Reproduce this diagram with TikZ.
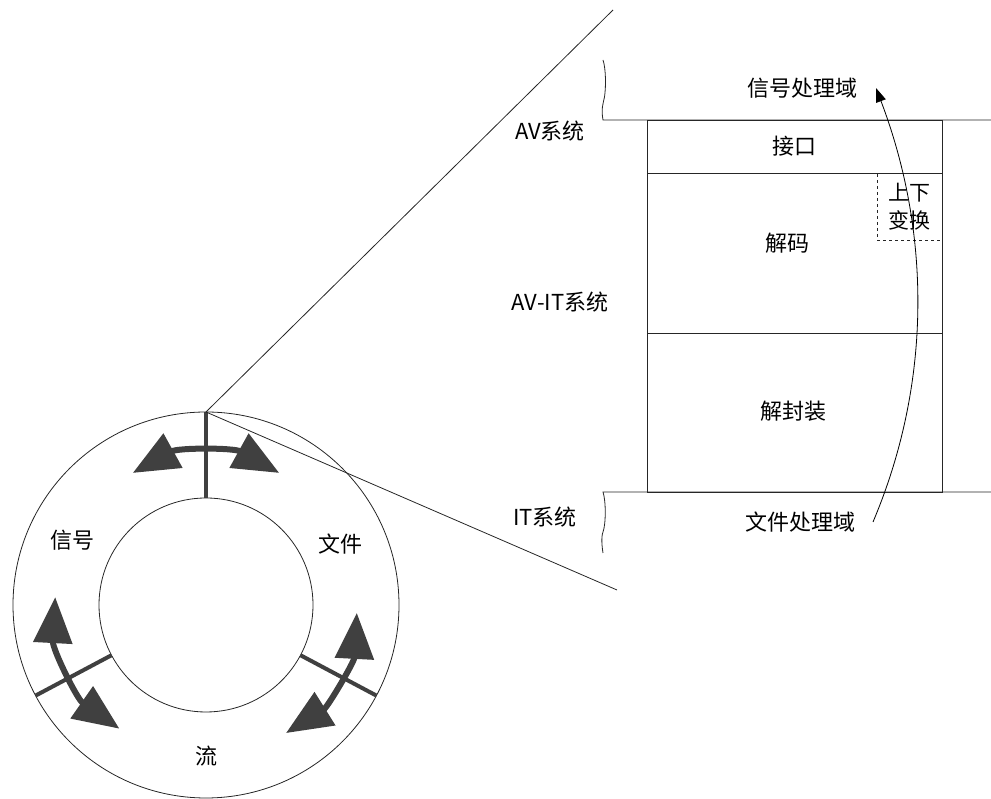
\documentclass[tikz,border=0pt]{standalone}
\usepackage{fontspec}
\setmainfont{Noto Sans CJK SC}
\usetikzlibrary{arrows.meta,calc}
\definecolor{dgray}{RGB}{64,64,64}

\begin{document}
\begin{tikzpicture}[x=1pt,y=1pt,
    lbl/.style={font=\fontsize{22}{28}\selectfont, inner sep=0pt, align=center},
    thin/.style={draw=black!85, line width=0.8pt},
    box/.style={thin, minimum width=295pt, inner sep=0pt, outer sep=0pt},
    ring/.style={circle, thin, inner sep=0pt, outer sep=0pt},
    sepline/.style={draw=dgray, line width=4pt},
    flow/.style={draw=dgray, line width=6pt, {Triangle[length=46pt,width=38pt]}-{Triangle[length=46pt,width=38pt]}},
    ]
  \useasboundingbox (0,0) rectangle (991,799);

  % ring with the three flows
  \coordinate (c) at (206,194);
  \node[ring, minimum size=386pt] (outer) at (c) {};
  \node[ring, minimum size=214pt] (inner) at (c) {};
  \foreach \a in {90,208,332}
    \draw[sepline] (inner.\a) -- (outer.\a);
  \draw[flow] ($(c)+(119:151)$) arc[start angle=119, end angle=61, radius=151];
  \draw[flow] ($(c)+(177:151)$) arc[start angle=177, end angle=235, radius=151];
  \draw[flow] ($(c)+(-3:151)$) arc[start angle=-3, end angle=-58, radius=151];
  \node[lbl] (sig) at (72,259) {信号};
  \node[lbl] (file) at (340,255) {文件};
  \node[lbl] (strm) at (206,43) {流};

  % zoom lines
  \coordinate (zt) at (613,789);
  \coordinate (zb) at (617,209);
  \draw[thin] (zt) -- (outer.north) -- (zb);

  % layers
  \node[box, minimum height=53pt] (iface) at (794.5,652.5) {};
  \node[box, minimum height=160pt] (decode) at (794.5,546) {};
  \node[box, minimum height=159pt] (decap) at (794.5,386.5) {};
  \node[thin, dashed, minimum width=65pt, minimum height=67pt, inner sep=0pt, outer sep=0pt] (conv) at (909.5,592.5) {};
  \node[lbl] at (iface) {接口};
  \node[lbl] at (787,556) {解码};
  \node[lbl] at (793,388) {解封装};
  \node[lbl, font=\fontsize{21}{28}\selectfont] at (conv) {上下\\变换};

  % domain borders
  \draw[thin] (603,739) .. controls (606,730) and (606,712) .. (604.5,702)
    .. controls (603,695) and (601,690) .. (603,679) -- (991,679);
  \draw[thin] (991,307) -- (603,307) .. controls (606,298) and (606,275) .. (603,267)
    .. controls (601,262) and (602,252) .. (603,246);
  \node[lbl] (sdom) at (802,711) {信号处理域};
  \node[lbl] (fdom) at (800,277) {文件处理域};

  % system labels
  \node[lbl] (av) at (550,668) {AV系统};
  \node[lbl] (avit) at (560,497) {AV-IT系统};
  \node[lbl] (it) at (545,282) {IT系统};

  % domain conversion
  \coordinate (fstart) at (873,277);
  \coordinate (ftip) at (876,711);
  \draw[thin, draw=black, -{Triangle[length=14pt,width=10pt]}] (fstart) .. controls (933,419) and (930,569) .. (ftip);
\end{tikzpicture}
\end{document}
